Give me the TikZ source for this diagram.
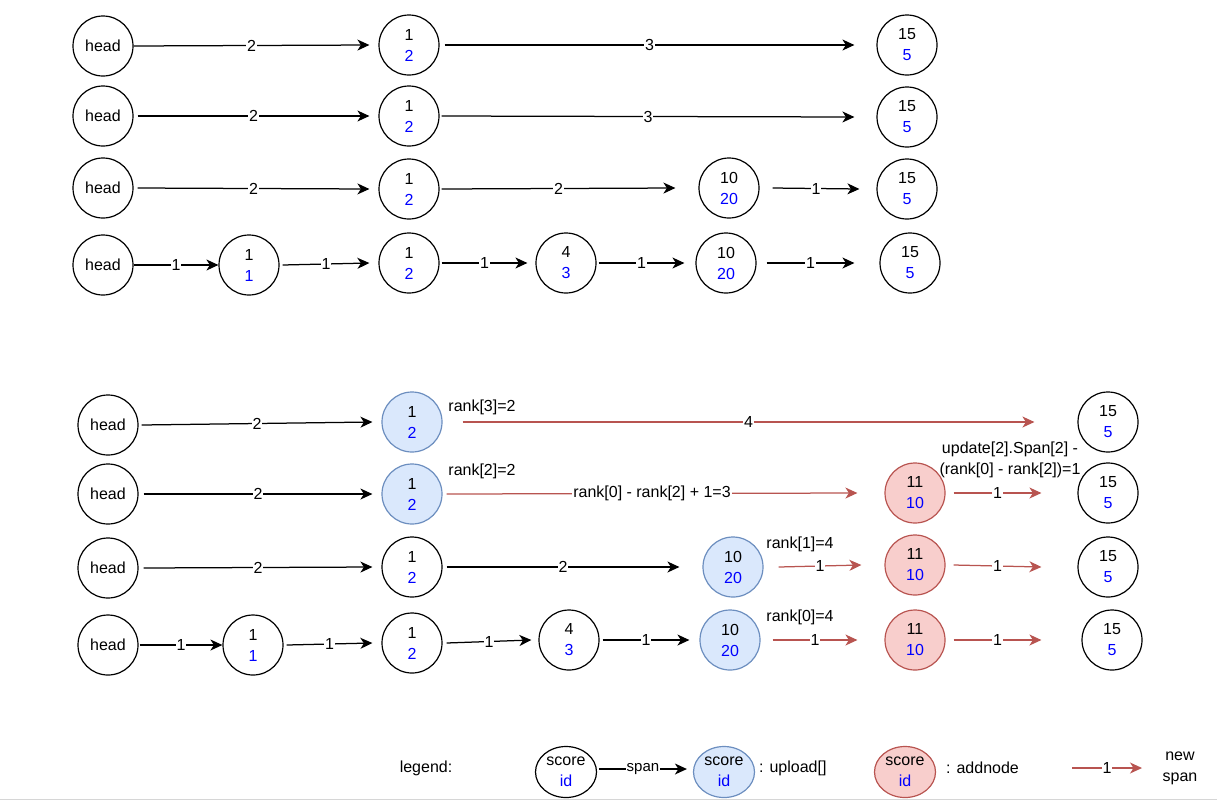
\documentclass[tikz,border=0pt]{standalone}
\usepackage{fontspec}
\setmainfont{Liberation Sans}
\usetikzlibrary{arrows.meta,calc,shapes.geometric}
\definecolor{bluefill}{HTML}{DAE8FC}
\definecolor{bluedraw}{HTML}{6C8EBF}
\definecolor{redfill}{HTML}{F8CECC}
\definecolor{reddraw}{HTML}{B85450}
\definecolor{idblue}{HTML}{0000FF}
\definecolor{rulegray}{HTML}{D6D6D6}
\newcommand\twol[2]{#1\\\textcolor{idblue}{#2}}
\newcommand\lnk[6][conn]{\draw[#1] ($(#2.east)+(#5,0)$) -- node[elab]{#4} ($(#3.west)-(#6,0)$);}
\tikzset{
  every node/.style={font=\fontsize{16}{21}\selectfont},
  sknode/.style={circle,draw,line width=1.2pt,minimum size=60pt,inner sep=0pt,align=center},
  bluenode/.style={sknode,fill=bluefill,draw=bluedraw},
  rednode/.style={sknode,fill=redfill,draw=reddraw},
  legnode/.style={ellipse,draw,line width=1.2pt,minimum width=61pt,minimum height=51pt,inner sep=0pt,align=center},
  conn/.style={line width=1.25pt,-{Stealth[length=12pt,width=11pt,inset=3.5pt]}},
  redconn/.style={conn,draw=reddraw},
  elab/.style={fill=white,inner sep=1pt,text=black},
  note/.style={inner sep=0pt,align=center},
}
\begin{document}
\begin{tikzpicture}[x=1pt,y=-1pt]
\useasboundingbox (0,0) rectangle (1217,801);
% ---------- top ----------
% row 1
\node[sknode] (h1) at (103,46) {head};
\node[sknode] (a1) at (409,45) {\twol{1}{2}};
\node[sknode] (e1) at (907,45) {\twol{15}{5}};
\lnk{h1}{a1}{2}{0}{9}
\lnk{a1}{e1}{3}{5}{22}
% row 2
\node[sknode] (h2) at (103,116) {head};
\node[sknode] (a2) at (409,116) {\twol{1}{2}};
\node[sknode] (e2) at (907,117) {\twol{15}{5}};
\lnk{h2}{a2}{2}{4}{9}
\lnk{a2}{e2}{3}{2}{22}
% row 3
\node[sknode] (h3) at (103,188) {head};
\node[sknode] (a3) at (409,189) {\twol{1}{2}};
\node[sknode] (d3) at (729,188) {\twol{10}{20}};
\node[sknode] (e3) at (907,189) {\twol{15}{5}};
\lnk{h3}{a3}{2}{4}{9}
\lnk{a3}{d3}{2}{2}{23}
\lnk{d3}{e3}{1}{13}{17}
% row 4
\node[sknode] (h4) at (103,265) {head};
\node[sknode] (b4) at (249,265) {\twol{1}{1}};
\node[sknode] (a4) at (409,263) {\twol{1}{2}};
\node[sknode] (c4) at (566,263) {\twol{4}{3}};
\node[sknode] (d4) at (726,263) {\twol{10}{20}};
\node[sknode] (e4) at (910,263) {\twol{15}{5}};
\lnk{h4}{b4}{1}{0}{0}
\lnk{b4}{a4}{1}{3}{9}
\lnk{a4}{c4}{1}{2}{8}
\lnk{c4}{d4}{1}{2}{11}
\lnk{d4}{e4}{1}{10}{25}
% ---------- bottom ----------
% row 5
\node[sknode] (h5) at (108,425) {head};
\node[bluenode] (a5) at (412,422) {\twol{1}{2}};
\node[sknode] (e5) at (1108,422) {\twol{15}{5}};
\lnk{h5}{a5}{2}{3}{9}
\lnk[redconn]{a5}{e5}{4}{20}{43}
\node[note] (k5) at (482,407) {rank[3]=2};
% row 6
\node[sknode] (h6) at (108,494) {head};
\node[bluenode] (a6) at (412,494) {\twol{1}{2}};
\node[rednode] (r6) at (915,493) {\twol{11}{10}};
\node[sknode] (e6) at (1108,493) {\twol{15}{5}};
\lnk{h6}{a6}{2}{5}{9}
\lnk[redconn]{a6}{r6}{rank[0] - rank[2] + 1=3}{4}{27}
\lnk[redconn]{r6}{e6}{1}{8}{36}
\node[note] (k6) at (482,471) {rank[2]=2};
\node[note] (upd) at (1010,460) {update[2].Span[2] -\\(rank[0] - rank[2])=1};
% row 7
\node[sknode] (h7) at (108,568) {head};
\node[sknode] (a7) at (412,567) {\twol{1}{2}};
\node[bluenode] (d7) at (733,567) {\twol{10}{20}};
\node[rednode] (r7) at (915,565) {\twol{11}{10}};
\node[sknode] (e7) at (1108,567) {\twol{15}{5}};
\lnk{h7}{a7}{2}{5}{9}
\lnk{a7}{d7}{2}{4}{23}
\lnk[redconn]{d7}{r7}{1}{15}{23}
\lnk[redconn]{r7}{e7}{1}{8}{36}
\node[note] (k7) at (800,544) {rank[1]=4};
% row 8
\node[sknode] (h8) at (108,645) {head};
\node[sknode] (b8) at (253,645) {\twol{1}{1}};
\node[sknode] (a8) at (412,643) {\twol{1}{2}};
\node[sknode] (c8) at (569,640) {\twol{4}{3}};
\node[bluenode] (d8) at (730,640) {\twol{10}{20}};
\node[rednode] (r8) at (915,640) {\twol{11}{10}};
\node[sknode] (e8) at (1112,640) {\twol{15}{5}};
\lnk{h8}{b8}{1}{1}{0}
\lnk{b8}{a8}{1}{3}{9}
\lnk{a8}{c8}{1}{4}{7}
\lnk{c8}{d8}{1}{3}{10}
\lnk[redconn]{d8}{r8}{1}{12}{27}
\lnk[redconn]{r8}{e8}{1}{8}{40}
\node[note] (k8) at (800,617) {rank[0]=4};
% ---------- legend ----------
\node[note] (leg) at (426,768) {legend:};
\node[legnode] (l1) at (566,772) {score\\\textcolor{idblue}{id}};
\node[legnode,fill=bluefill,draw=bluedraw] (l2) at (724,772) {score\\\textcolor{idblue}{id}};
\node[legnode,fill=redfill,draw=reddraw] (l3) at (905,772) {score\\\textcolor{idblue}{id}};
\draw[conn] ($(l1.east)+(2,-3)$) -- node[elab,font=\fontsize{15}{18}\selectfont]{span} ($(l2.west)+(-6,-3)$);
\node[note,anchor=west] (t2) at (759,768) {: upload[]};
\node[note,anchor=west] (t3) at (946,768) {: addnode};
\coordinate (ls) at (1072,768);
\coordinate (le) at (1142,768);
\draw[redconn] (ls) -- node[elab]{1} (le);
\node[note] (ns) at (1180,768) {new\\span};
\draw[rulegray,line width=1pt] (0,799.5) -- (1217,799.5);
\end{tikzpicture}
\end{document}
